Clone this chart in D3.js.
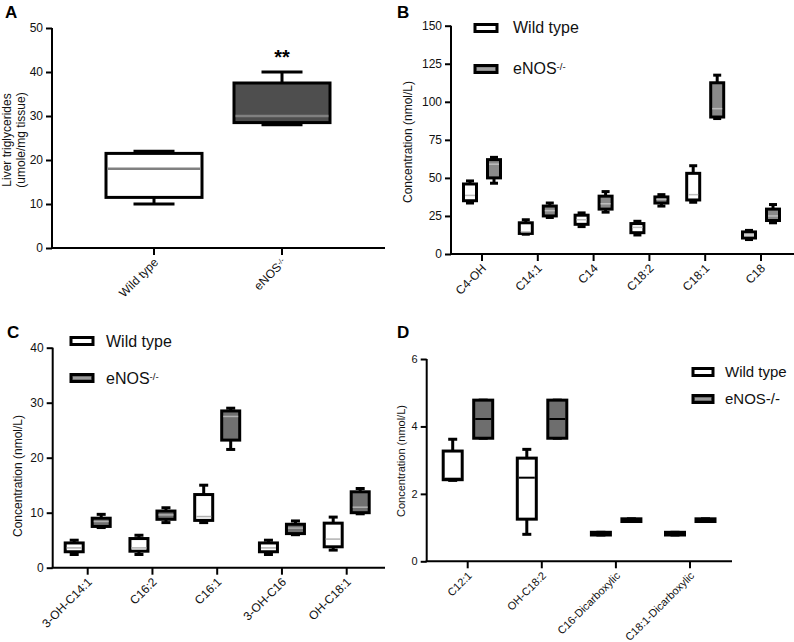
<!DOCTYPE html>
<html><head><meta charset="utf-8">
<script src="https://cdn.jsdelivr.net/npm/d3@7"></script>
<style>body{margin:0;background:#fff} svg{display:block;font-family:"Liberation Sans",Arial,sans-serif}</style>
</head><body><svg id="c" width="794" height="642"></svg>
<script>
// ---- DATA (each box: [min, q1, median, q3, max]) ----
const seriesNames = ["Wild type", "eNOS-/-"];
// Panel A
const aCategories = ["Wild type", "eNOS-/-"];
const aWild = [10, 11.5, 18, 21.5, 22];
const aEnos = [28, 28.5, 30, 37.5, 40];
const aTicks = [0, 10, 20, 30, 40, 50];
// Panel B
const bCategories = ["C4-OH", "C14:1", "C14", "C18:2", "C18:1", "C18"];
const bWild = [[33.5,35,38.5,46,48],[13,13.5,14.5,20.5,22.5],[18,19.5,22.5,25.5,27],[12.5,14,17.5,20,21.5],[34,35.5,39,53,58],[9.5,10.5,12.5,14.5,15.5]];
const bEnos = [[46.5,50,59,62,63.5],[24,25,28.5,31.5,33.5],[27.5,29.5,33,38,41],[31.5,33.5,36,37.5,39],[89,90,95.5,112.5,117.5],[20.5,22,25,29.5,32.5]];
const bTicks = [0, 25, 50, 75, 100, 125, 150];
// Panel C
const cCategories = ["3-OH-C14:1", "C16:2", "C16:1", "3-OH-C16", "OH-C18:1"];
const cWild = [[2.4,2.9,3.6,4.5,5],[2.4,3,3.6,5.3,5.9],[8.2,8.6,9.3,13.3,15],[2.4,2.9,3.6,4.5,5],[3.2,3.8,5.2,8.1,9.2]];
const cEnos = [[7.3,7.5,8.4,9,9.7],[8.2,8.8,9.6,10.3,10.9],[21.5,23.2,27.5,28.5,29],[6,6.2,7.2,7.9,8.5],[9.8,10,11,13.8,14.4]];
const cTicks = [0, 10, 20, 30, 40];
// Panel D
const dCategories = ["C12:1", "OH-C18:2", "C16-Dicarboxylic", "C18:1-Dicarboxylic"];
const dWild = [[2.4,2.42,2.45,3.27,3.62],[0.8,1.25,2.48,3.06,3.32],[0.78,0.78,0.82,0.86,0.86],[0.78,0.78,0.82,0.86,0.86]];
const dEnos = [[3.65,3.65,4.22,4.78,4.78],[3.65,3.65,4.22,4.78,4.78],[1.18,1.18,1.22,1.26,1.26],[1.18,1.18,1.22,1.26,1.26]];
const dTicks = [0, 2, 4, 6];

const svg = d3.select("#c");

function addLabel(sel, txt, sup) {
  if (sup && txt.endsWith("-/-")) {
    sel.append("tspan").text(txt.slice(0, -3));
    sel.append("tspan").attr("dy", "-0.45em").attr("font-size", "0.6em").text("-/-");
  } else sel.text(txt);
}

function panel(o) {
  const g = svg.append("g");
  const y = d3.scaleLinear().domain([0, o.ticks[o.ticks.length - 1]]).range([o.yBottom, o.yTop]);
  const x = d3.scalePoint().domain(o.cats).range([o.xFirst, o.xLast]);
  // y axis
  const ya = g.append("g").attr("transform", `translate(${o.x0},0)`)
    .call(d3.axisLeft(y).tickValues(o.ticks).tickFormat(d3.format("d")).tickSize(6).tickSizeOuter(0).tickPadding(3));
  ya.select(".domain").attr("stroke-width", 2).attr("d", `M0,${o.yBottom}V${o.yTop}`);
  ya.selectAll(".tick line").attr("stroke-width", 2);
  ya.selectAll("text").attr("font-size", o.fs).attr("fill", "#111").style("font-family", "Liberation Sans, Arial");
  // x axis
  g.append("line").attr("x1", o.x0 - 1).attr("x2", o.x1).attr("y1", o.yBottom).attr("y2", o.yBottom)
    .attr("stroke", "#000").attr("stroke-width", 2);
  o.cats.forEach(c => {
    g.append("line").attr("x1", x(c)).attr("x2", x(c)).attr("y1", o.yBottom).attr("y2", o.yBottom + 7)
      .attr("stroke", "#000").attr("stroke-width", 2);
    const t = g.append("text").attr("font-size", o.xfs || o.fs).attr("fill", "#111").attr("text-anchor", "end")
      .attr("transform", `translate(${x(c) + 5},${o.yBottom + 15}) rotate(-45)`);
    addLabel(t, c, o.sup);
  });
  // boxes
  o.series.forEach(s => {
    s.data.forEach((d, i) => {
      if (!d) return;
      const cx = x(o.cats[i]) + s.off;
      const [mn, q1, md, q3, mx] = d;
      const bw = o.boxW, cw = o.capW;
      const wl = g.append("g").attr("stroke", "#000").attr("stroke-width", o.sw);
      wl.append("line").attr("x1", cx).attr("x2", cx).attr("y1", y(mx)).attr("y2", y(q3));
      wl.append("line").attr("x1", cx).attr("x2", cx).attr("y1", y(q1)).attr("y2", y(mn));
      wl.append("line").attr("x1", cx - cw / 2).attr("x2", cx + cw / 2).attr("y1", y(mx)).attr("y2", y(mx));
      wl.append("line").attr("x1", cx - cw / 2).attr("x2", cx + cw / 2).attr("y1", y(mn)).attr("y2", y(mn));
      g.append("rect").attr("x", cx - bw / 2).attr("width", bw).attr("y", y(q3)).attr("height", Math.max(0.5, y(q1) - y(q3)))
        .attr("fill", s.fill).attr("stroke", "#000").attr("stroke-width", o.sw);
      g.append("line").attr("x1", cx - bw / 2 + o.sw / 2).attr("x2", cx + bw / 2 - o.sw / 2).attr("y1", y(md)).attr("y2", y(md))
        .attr("stroke", o.medColor).attr("stroke-width", o.medW);
    });
  });
  // y title
  const yt = g.append("text").attr("font-size", o.tfs).attr("fill", "#111").attr("text-anchor", "middle")
    .attr("transform", `translate(${o.titleX},${o.titleY}) rotate(-90)`);
  o.title.forEach((line, k) => yt.append("tspan").attr("x", 0).attr("dy", k === 0 ? 0 : "1.2em").text(line));
  // panel letter
  g.append("text").attr("x", o.letterX).attr("y", o.letterY).attr("font-size", 17).attr("font-weight", "bold").text(o.letter);
  // legend
  if (o.legend) {
    const L = o.legend;
    o.series.forEach((s, k) => {
      const ly = L.y + k * L.dy;
      g.append("rect").attr("x", L.x).attr("y", ly - 3.5).attr("width", L.w).attr("height", 7)
        .attr("fill", s.fill).attr("stroke", "#000").attr("stroke-width", 3);
      g.append("line").attr("x1", L.x + 2).attr("x2", L.x + L.w - 2).attr("y1", ly).attr("y2", ly)
        .attr("stroke", s.fill === "#fff" ? "#fff" : "#aaa").attr("stroke-width", 1.5);
      const t = g.append("text").attr("x", L.tx).attr("y", ly + L.base).attr("font-size", L.fs).attr("fill", "#111");
      addLabel(t, seriesNames[k], L.sup);
    });
  }
  return {g, x, y};
}

// Panel A
const A = panel({
  x0: 52, x1: 385, yBottom: 248, yTop: 28, ticks: aTicks, cats: aCategories, xFirst: 154, xLast: 282,
  series: [{data: [aWild, null], fill: "#fff", off: 0}, {data: [null, aEnos], fill: "#4e4e4e", off: 0}],
  boxW: 96, capW: 41, sw: 3, medColor: "#808080", medW: 2.5, fs: 12, sup: true,
  title: ["Liver triglycerides", "(umole/mg tissue)"], titleX: 11, titleY: 140, tfs: 12,
  letter: "A", letterX: 5, letterY: 18
});
A.g.append("text").attr("x", A.x(aCategories[1])).attr("y", A.y(aEnos[4]) + -8).attr("text-anchor", "middle")
  .attr("font-size", 20).attr("font-weight", "bold").text("**");

// Panel B
panel({
  x0: 451, x1: 794, yBottom: 254, yTop: 25.7, ticks: bTicks, cats: bCategories, xFirst: 482, xLast: 761,
  series: [{data: bWild, fill: "#fff", off: -12}, {data: bEnos, fill: "#8a8a8a", off: 12}],
  boxW: 13, capW: 8, sw: 3, medColor: "#bdbdbd", medW: 1.5, fs: 12, sup: false,
  title: ["Concentration (nmol/L)"], titleX: 412, titleY: 142, tfs: 12,
  letter: "B", letterX: 397, letterY: 18,
  legend: {x: 475, w: 22, y: 28, dy: 41, tx: 513, base: 5, fs: 16, sup: true}
});

// Panel C
panel({
  x0: 52.7, x1: 385, yBottom: 567.7, yTop: 347.7, ticks: cTicks, cats: cCategories, xFirst: 87.7, xLast: 346.7,
  series: [{data: cWild, fill: "#fff", off: -13.5}, {data: cEnos, fill: "#707070", off: 13.5}],
  boxW: 18, capW: 9, sw: 3, medColor: "#b0b0b0", medW: 1.5, fs: 12, sup: false,
  title: ["Concentration (nmol/L)"], titleX: 22, titleY: 476, tfs: 12,
  letter: "C", letterX: 7, letterY: 338,
  legend: {x: 71, w: 22, y: 341, dy: 37, tx: 106, base: 6, fs: 16, sup: true}
});

// Panel D
panel({
  x0: 426.7, x1: 732, yBottom: 561.3, yTop: 359, ticks: dTicks, cats: dCategories, xFirst: 467.7, xLast: 690,
  series: [{data: dWild, fill: "#fff", off: -15}, {data: dEnos, fill: "#6e6e6e", off: 15.5}],
  boxW: 19, capW: 9, sw: 3, medColor: "#000", medW: 2, fs: 11, sup: false,
  title: ["Concentration (nmol/L)"], titleX: 405, titleY: 461, tfs: 11,
  letter: "D", letterX: 397, letterY: 338,
  legend: {x: 693, w: 20, y: 372, dy: 27, tx: 725, base: 5, fs: 15, sup: false}
});
</script></body></html>
